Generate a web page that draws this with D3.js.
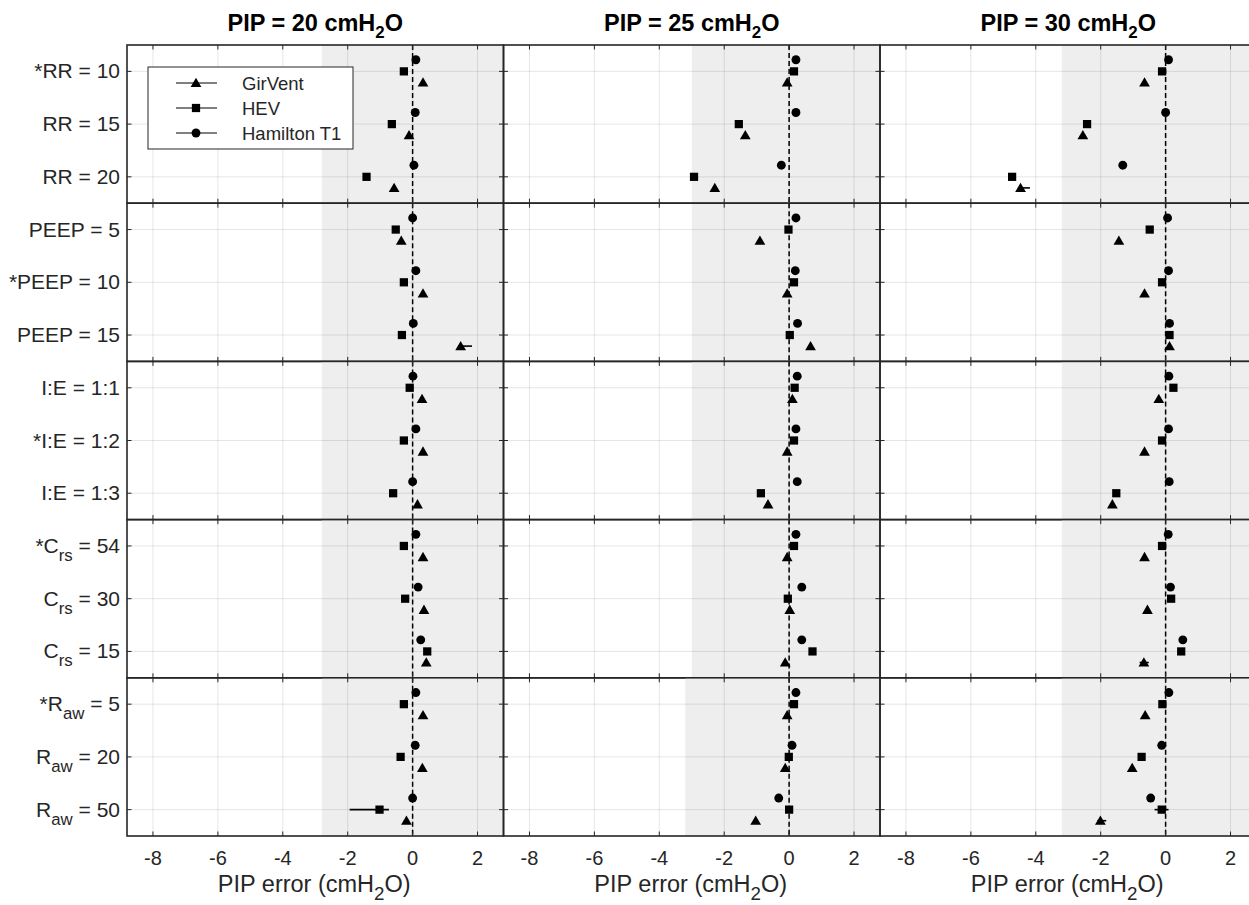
<!DOCTYPE html>
<html><head><meta charset="utf-8">
<script src="https://cdn.jsdelivr.net/npm/d3@7"></script>
<style>body{margin:0;background:#fff}svg{font-family:Arial,"Liberation Sans",Helvetica,sans-serif;display:block}</style>
</head><body><svg id="chart" width="1249" height="905"></svg>
<script>
// ---------------- DATA ----------------
const pipTitles = ["PIP = 20 cmH_{2}O", "PIP = 25 cmH_{2}O", "PIP = 30 cmH_{2}O"];
const categories = [
  "*RR = 10", "RR = 15", "RR = 20",
  "PEEP = 5", "*PEEP = 10", "PEEP = 15",
  "I:E = 1:1", "*I:E = 1:2", "I:E = 1:3",
  "*C_{rs} = 54", "C_{rs} = 30", "C_{rs} = 15",
  "*R_{aw} = 5", "R_{aw} = 20", "R_{aw} = 50"
];
const seriesNames = ["GirVent", "HEV", "Hamilton T1"];
const xTicks = [-8, -6, -4, -2, 0, 2];
const xDomain = [-8.8, 2.8];
const xLabel = "PIP error (cmH_{2}O)";

// PIP error (cmH2O), one value per category
const pip20_girvent  = [0.32, -0.11, -0.57, -0.35, 0.32, 1.48, 0.29, 0.32, 0.15, 0.32, 0.35, 0.42, 0.32, 0.30, -0.19];
const pip20_hev      = [-0.27, -0.64, -1.42, -0.52, -0.27, -0.33, -0.09, -0.27, -0.60, -0.27, -0.23, 0.45, -0.27, -0.37, -1.02];
const pip20_hamilton = [0.10, 0.08, 0.04, 0.00, 0.10, 0.02, 0.01, 0.10, 0.00, 0.10, 0.17, 0.25, 0.10, 0.08, 0.00];

const pip25_girvent  = [-0.06, -1.35, -2.29, -0.90, -0.06, 0.66, 0.10, -0.06, -0.65, -0.06, 0.02, -0.12, -0.06, -0.12, -1.03];
const pip25_hev      = [0.15, -1.55, -2.93, -0.02, 0.15, 0.02, 0.17, 0.15, -0.87, 0.15, -0.04, 0.72, 0.15, -0.01, 0.00];
const pip25_hamilton = [0.21, 0.21, -0.24, 0.21, 0.19, 0.26, 0.25, 0.21, 0.25, 0.21, 0.39, 0.39, 0.21, 0.09, -0.32];

const pip30_girvent  = [-0.65, -2.55, -4.47, -1.44, -0.65, 0.12, -0.21, -0.65, -1.64, -0.65, -0.56, -0.67, -0.63, -1.03, -2.01];
const pip30_hev      = [-0.11, -2.42, -4.73, -0.49, -0.11, 0.12, 0.24, -0.11, -1.52, -0.11, 0.17, 0.48, -0.10, -0.74, -0.12];
const pip30_hamilton = [0.09, 0.00, -1.32, 0.06, 0.09, 0.12, 0.10, 0.09, 0.11, 0.08, 0.15, 0.53, 0.10, -0.12, -0.46];

// error bar ranges [low, high] (null = none visible)
const pip20_girvent_err = [null, null, null, null, null, [1.40, 1.83], null, null, null, null, null, null, null, null, null];
const pip20_hev_err     = [null, null, null, null, null, null, null, null, null, null, null, null, null, null, [-1.94, -0.73]];
const pip30_girvent_err = [null, null, [-4.55, -4.18], null, null, null, null, null, null, null, null, [-0.80, -0.52], null, null, [-2.10, -1.83]];
const pip30_hev_err     = [null, null, null, null, null, null, null, null, null, null, null, null, null, null, [-0.34, 0.09]];

// tolerance band (+/-) per PIP column and group
const shadeLow  = [[-2.8, -2.8, -2.8, -2.8, -2.8], [-3.0, -3.0, -3.0, -3.0, -3.2], [-3.2, -3.2, -3.2, -3.2, -3.2]];
const shadeHigh = [2.8, 3.0, 3.2];

const panelValues = [
  [pip20_girvent, pip20_hev, pip20_hamilton],
  [pip25_girvent, pip25_hev, pip25_hamilton],
  [pip30_girvent, pip30_hev, pip30_hamilton]
];
const panelErrors = [
  [pip20_girvent_err, pip20_hev_err, null],
  [null, null, null],
  [pip30_girvent_err, pip30_hev_err, null]
];

// ---------------- LAYOUT ----------------
const svg = d3.select("#chart");
const colX0 = [127, 503.5, 880];
const colW = 376.5;
const top0 = 45, groupH = 158.2, nGroups = 5;
const axisColor = "#262626";
const fontTick = 20, fontYLab = 21, fontXLab = 23.5, fontTitle = 23.5;
const symbols = [d3.symbolTriangle, d3.symbolSquare, d3.symbolCircle];
const symSizes = [50, 68, 62];
const yOffset = [0.21, 0, -0.22];

function rich(sel, str, fs, subScale, subDrop) {
  const parts = str.split(/(_\{[^}]*\})/).filter(s => s.length);
  let shifted = false;
  parts.forEach(p => {
    if (p.startsWith("_{")) {
      sel.append("tspan").attr("font-size", fs * subScale).attr("dy", subDrop).text(p.slice(2, -1));
      shifted = true;
    } else {
      const t = sel.append("tspan").text(p);
      if (shifted) { t.attr("dy", -subDrop); shifted = false; }
    }
  });
}

const xScales = colX0.map(x0 => d3.scaleLinear().domain(xDomain).range([x0, x0 + colW]));

for (let c = 0; c < 3; c++) {
  const x = xScales[c];
  for (let g = 0; g < nGroups; g++) {
    const gTop = top0 + g * groupH;
    const y = d3.scaleLinear().domain([0.5, 3.5]).range([gTop, gTop + groupH]);
    const gr = svg.append("g");
    // shade
    gr.append("rect")
      .attr("x", x(shadeLow[c][g])).attr("y", gTop)
      .attr("width", x(Math.min(shadeHigh[c], xDomain[1])) - x(shadeLow[c][g]))
      .attr("height", groupH).attr("fill", "#eeeeee");
    // grid
    xTicks.forEach(t => {
      gr.append("line").attr("x1", x(t)).attr("x2", x(t)).attr("y1", gTop).attr("y2", gTop + groupH)
        .attr("stroke", "#000").attr("stroke-opacity", 0.1).attr("stroke-width", 1);
    });
    [1, 2, 3].forEach(k => {
      gr.append("line").attr("x1", x.range()[0]).attr("x2", x.range()[1]).attr("y1", y(k)).attr("y2", y(k))
        .attr("stroke", "#000").attr("stroke-opacity", 0.1).attr("stroke-width", 1);
    });
    // zero line
    gr.append("line").attr("x1", x(0)).attr("x2", x(0)).attr("y1", gTop).attr("y2", gTop + groupH)
      .attr("stroke", "#000").attr("stroke-width", 1.5).attr("stroke-dasharray", "5,3");
    // data
    for (let s = 0; s < 3; s++) {
      const vals = panelValues[c][s].slice(g * 3, g * 3 + 3);
      const errs = panelErrors[c][s] ? panelErrors[c][s].slice(g * 3, g * 3 + 3) : [null, null, null];
      vals.forEach((v, k) => {
        const yy = y(k + 1 + yOffset[s]);
        if (errs[k]) {
          gr.append("line").attr("x1", x(errs[k][0])).attr("x2", x(errs[k][1])).attr("y1", yy).attr("y2", yy)
            .attr("stroke", "#000").attr("stroke-width", 1.6);
        }
        gr.append("path").attr("d", d3.symbol().type(symbols[s]).size(symSizes[s])())
          .attr("transform", `translate(${x(v)},${yy + (s === 0 ? 1 : 0)})`).attr("fill", "#000");
      });
    }
    // ticks (inside)
    const tl = 4.5;
    xTicks.forEach(t => {
      gr.append("line").attr("x1", x(t)).attr("x2", x(t)).attr("y1", gTop).attr("y2", gTop + tl).attr("stroke", axisColor).attr("stroke-width", 1);
      gr.append("line").attr("x1", x(t)).attr("x2", x(t)).attr("y1", gTop + groupH).attr("y2", gTop + groupH - tl).attr("stroke", axisColor).attr("stroke-width", 1);
    });
    [1, 2, 3].forEach(k => {
      gr.append("line").attr("x1", x.range()[0]).attr("x2", x.range()[0] + tl).attr("y1", y(k)).attr("y2", y(k)).attr("stroke", axisColor);
      gr.append("line").attr("x1", x.range()[1]).attr("x2", x.range()[1] - tl).attr("y1", y(k)).attr("y2", y(k)).attr("stroke", axisColor);
    });
    // box
    gr.append("rect").attr("x", x.range()[0]).attr("y", gTop).attr("width", colW).attr("height", groupH)
      .attr("fill", "none").attr("stroke", axisColor).attr("stroke-width", 1.6);
    // y labels
    if (c === 0) {
      [1, 2, 3].forEach(k => {
        const t = svg.append("text").attr("x", x.range()[0] - 7).attr("y", y(k) + 7)
          .attr("text-anchor", "end").attr("font-size", fontYLab).attr("fill", "#262626");
        rich(t, categories[g * 3 + k - 1], fontYLab, 0.8, 8);
      });
    }
    // x tick labels
    if (g === nGroups - 1) {
      xTicks.forEach(t => {
        svg.append("text").attr("x", x(t)).attr("y", gTop + groupH + 29).attr("text-anchor", "middle")
          .attr("font-size", fontTick).attr("fill", "#262626").text(t < 0 ? "-" + Math.abs(t) : t);
      });
      const xl = svg.append("text").attr("x", (x.range()[0] + x.range()[1]) / 2 - 1).attr("y", gTop + groupH + 56)
        .attr("text-anchor", "middle").attr("font-size", fontXLab).attr("fill", "#262626");
      rich(xl, xLabel, fontXLab, 0.8, 8);
    }
  }
  // column title
  const tt = svg.append("text").attr("x", colX0[c] + colW / 2).attr("y", 31).attr("text-anchor", "middle")
    .attr("font-size", fontTitle).attr("font-weight", "bold").attr("fill", "#000");
  rich(tt, pipTitles[c], fontTitle, 0.72, 7);
}

// ---------------- LEGEND ----------------
const lg = svg.append("g");
lg.append("rect").attr("x", 148).attr("y", 67).attr("width", 205).attr("height", 82)
  .attr("fill", "#fff").attr("stroke", axisColor).attr("stroke-width", 1);
seriesNames.forEach((name, i) => {
  const yy = 83 + i * 25;
  lg.append("line").attr("x1", 176).attr("x2", 217).attr("y1", yy).attr("y2", yy).attr("stroke", "#000").attr("stroke-width", 1);
  lg.append("path").attr("d", d3.symbol().type(symbols[i]).size(symSizes[i])())
    .attr("transform", `translate(196,${yy + (i === 0 ? 1 : 0)})`).attr("fill", "#000");
  lg.append("text").attr("x", 242).attr("y", yy + 6.5).attr("font-size", 18.5).attr("fill", "#262626").text(name);
});
</script></body></html>
